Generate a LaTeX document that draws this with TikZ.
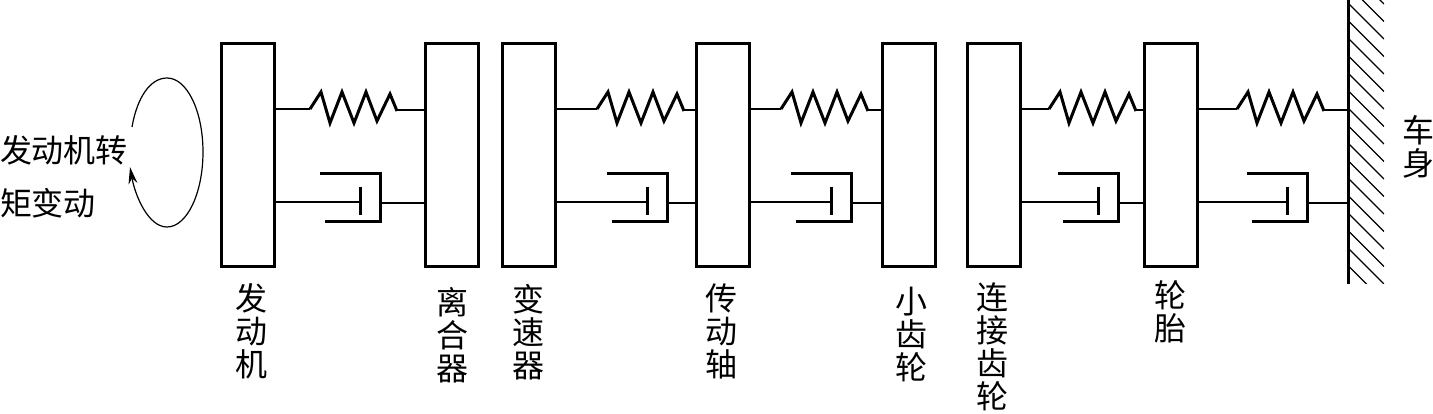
\documentclass[tikz,border=0pt]{standalone}
\usepackage{fontspec}
\newfontfamily\cjk{Noto Sans CJK SC}
\usetikzlibrary{positioning,arrows.meta}
\tikzset{
	part/.style={draw,line width=3pt,minimum width=53pt,minimum height=223pt,inner sep=0pt,outer sep=0pt,anchor=north west},
	lab/.style={font=\cjk\fontsize{32}{33}\selectfont,align=center,inner sep=0pt,outer sep=0pt},
	rod/.style={line width=2pt},
	coil/.style={line width=3pt,line join=miter},
}
\begin{document}
\begin{tikzpicture}[x=1pt,y=-1pt]
			\useasboundingbox (0,0) rectangle (1433,414);
			\node[part] (engine) at (221,44) {};
			\node[part] (clutch) at (425,44) {};
			\node[part] (gearbox) at (502,44) {};
			\node[part] (shaft) at (696,44) {};
			\node[part] (pinion) at (882,44) {};
			\node[part] (linkgear) at (967,44) {};
			\node[part] (tyre) at (1144,44) {};
			\node[inner sep=0pt,outer sep=0pt,minimum width=0pt,minimum height=284pt,anchor=north] (wall) at (1348,0) {};
% 			wall and its hatching
			\draw[line width=3pt] (wall.north) -- (wall.south);
			\begin{scope}
			\clip (1348,0) rectangle (1384,284);
			\foreach \i in {-2,...,16}
			\draw[line width=1.2pt] (1348,{3+17.5*\i}) -- ++(36,36);
			\end{scope}

			\foreach \a/\b/\s/\c in {engine/clutch/310/380,gearbox/shaft/597/667,shaft/pinion/781/851,linkgear/tyre/1049/1118,tyre/wall/1237/1307}{
				\coordinate (coilin) at (\s,109);
				\coordinate (coilout) at (\s+87,110);
				\coordinate (rodin) at (\c-20,202);
				\coordinate (rodout) at (\c,203);
				\draw[rod] (\a.east |- coilin) -- (coilin);
				\draw[coil] (coilin) -- ++(11,-17) -- ++(9,31) -- ++(12,-31) -- ++(12,31) -- ++(12,-31) -- ++(11,29) -- ++(13,-27) -- ++(7,17);
				\draw[rod] (coilout) -- (\b.west |- coilout);
				\draw[rod] (\a.east |- rodin) -- (rodin);
				\draw[line width=3pt] (\c-20,187) -- (\c-20,215);
				\draw[line width=3pt] (\c-60,174) -- (\c,174) -- (\c,222) -- (\c-55,222);
				\draw[rod] (rodout) -- (\b.west |- rodout);
			}

			\draw[line width=1.2pt,-{Stealth[length=17pt,width=9pt]}] (132,127) .. controls (137,98) and (150,78) .. (167,78) .. controls (187,78) and (203,111) .. (203,152) .. controls (203,193) and (187,227) .. (167,227) .. controls (148,227) and (135,195) .. (130,167);

			\node[lab,anchor=west] (torquea) at (0,150) {发动机转};
			\node[lab,anchor=west] (torqueb) at (0,203) {矩变动};
			\node[lab,anchor=north] (enginelab) at (251,283) {发\\动\\机};
			\node[lab,anchor=north] (clutchlab) at (452,287) {离\\合\\器};
			\node[lab,anchor=north] (gearboxlab) at (528,284) {变\\速\\器};
			\node[lab,anchor=north] (shaftlab) at (721,284) {传\\动\\轴};
			\node[lab,anchor=north] (pinionlab) at (911,287) {小\\齿\\轮};
			\node[lab,anchor=north] (linkgearlab) at (992,283) {连\\接\\齿\\轮};
			\node[lab,anchor=north] (tyrelab) at (1170,281) {轮\\胎};
			\node[lab,anchor=north] (bodylab) at (1418,115) {车\\身};
\end{tikzpicture}
\end{document}
